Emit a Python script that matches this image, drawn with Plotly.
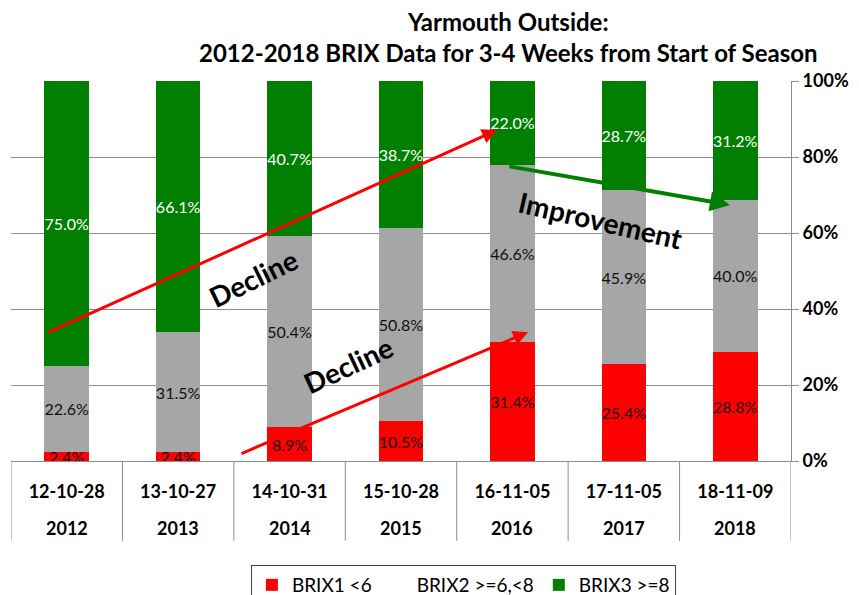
import plotly.graph_objects as go

# ---- data ----
years = ["2012", "2013", "2014", "2015", "2016", "2017", "2018"]
dates = ["12-10-28", "13-10-27", "14-10-31", "15-10-28", "16-11-05", "17-11-05", "18-11-09"]
brix1 = [2.4, 2.4, 8.9, 10.5, 31.4, 25.4, 28.8]
brix2 = [22.6, 31.5, 50.4, 50.8, 46.6, 45.9, 40.0]
brix3 = [75.0, 66.1, 40.7, 38.7, 22.0, 28.7, 31.2]
names = ["BRIX1 <6", "BRIX2 >=6,<8", "BRIX3 >=8"]
yticks = [0, 20, 40, 60, 80, 100]

FONT = "Lato"
RED, GRAY, GREEN = "#FF0000", "#A6A6A6", "#007F00"
GRID = "#8C8C8C"

fig = go.Figure()
fig.add_trace(go.Bar(
    x=years, y=brix1, name=names[0], marker=dict(color=RED, line=dict(width=0)),
    texttemplate="%{y:.1f}%", textposition="inside", insidetextanchor="middle",
    textangle=0, textfont=dict(family=FONT, size=16, color="#111111"),
))
fig.add_trace(go.Bar(
    x=years, y=brix2, name=names[1], showlegend=False,
    marker=dict(color=GRAY, line=dict(width=0)),
    texttemplate="%{y:.1f}%", textposition="inside", insidetextanchor="middle",
    textangle=0, textfont=dict(family=FONT, size=16, color="#111111"),
))
# legend-only entry for BRIX2 (its key has no visible swatch in the original)
fig.add_trace(go.Bar(
    x=[years[0]], y=[None], name=names[1],
    marker=dict(color="rgba(0,0,0,0)", line=dict(width=0)), hoverinfo="skip",
))
fig.add_trace(go.Bar(
    x=years, y=brix3, name=names[2], marker=dict(color=GREEN, line=dict(width=0)),
    texttemplate="%{y:.1f}%", textposition="inside", insidetextanchor="middle",
    textangle=0, textfont=dict(family=FONT, size=16, color="white"),
))

W, H, L, R, T, B = 859, 595, 11, 68, 81, 134
pw, ph = W - L - R, H - T - B
n = len(years)

shapes = []
for i in range(n + 1):
    shapes.append(dict(type="line", xref="x", yref="paper", x0=i - 0.5, x1=i - 0.5,
                       y0=0, y1=-0.21, line=dict(color=GRID, width=1)))

annotations = []
# title
annotations.append(dict(x=(509 - L) / pw, y=(H - B - 5) / ph, xref="paper", yref="paper",
                        showarrow=False,
                        text="Yarmouth Outside:<br>2012-2018 BRIX Data for 3-4 Weeks from Start of Season",
                        xanchor="center", yanchor="top", align="center",
                        font=dict(family=FONT, size=24, color="black", weight="bold")))
# year labels (second level of category axis)
for i, yr in enumerate(years):
    annotations.append(dict(x=i, y=-0.175, xref="x", yref="paper", text=yr,
                            showarrow=False, yanchor="middle",
                            font=dict(family=FONT, size=18, color="black", weight="bold")))

def arrow(x_head, y_head, x_tail, y_tail, color, width):
    return dict(x=x_head, y=y_head, ax=x_tail, ay=y_tail, xref="x", yref="y",
                axref="x", ayref="y", showarrow=True, arrowhead=2, arrowsize=1,
                arrowwidth=width, arrowcolor=color, standoff=0, startstandoff=0, text="")

annotations.append(arrow(3.861, 87.1, -0.177, 33.7, RED, 3))
annotations.append(arrow(4.140, 33.9, 1.555, 1.8, RED, 3))
annotations.append(arrow(5.952, 67.4, 3.960, 77.6, GREEN, 4))

bold_big = dict(family=FONT, size=28, color="black", weight="bold")
annotations.append(dict(x=1.672, y=48.2, xref="x", yref="y", text="Decline",
                        showarrow=False, textangle=-26, font=bold_big))
annotations.append(dict(x=2.524, y=25.3, xref="x", yref="y", text="Decline",
                        showarrow=False, textangle=-25, font=bold_big))
annotations.append(dict(x=4.786, y=63.4, xref="x", yref="y", text="Improvement",
                        showarrow=False, textangle=13, font=bold_big))

fig.update_layout(
    width=W, height=H,
    margin=dict(l=L, r=R, t=T, b=B, autoexpand=False),
    paper_bgcolor="white", plot_bgcolor="white",
    barmode="stack", bargap=0.6,
    uniformtext=dict(minsize=16, mode="show"),
    xaxis=dict(type="category", tickvals=years, ticktext=dates, range=[-0.5, n - 0.5],
               showgrid=False, showline=True, linecolor=GRID, linewidth=1, ticks="",
               ticklabelstandoff=14, automargin=False,
               tickfont=dict(family=FONT, size=18, color="black", weight="bold")),
    yaxis=dict(side="right", range=[0, 100], tickvals=yticks,
               ticktext=[f"{v}%" for v in yticks], automargin=False,
               showgrid=True, gridcolor=GRID, gridwidth=1, zeroline=False,
               showline=True, linecolor=GRID, linewidth=1,
               ticks="outside", ticklen=7, tickcolor=GRID,
               tickfont=dict(family=FONT, size=18, color="black", weight="bold")),
    legend=dict(orientation="h", x=0.58, xanchor="center", y=-(565 - (H - B)) / ph,
                yanchor="top",
                bordercolor="#404040", borderwidth=1, itemwidth=30,
                font=dict(family=FONT, size=19, color="black"), traceorder="normal"),
    shapes=shapes, annotations=annotations,
)

fig.write_html("out.html", config={"displayModeBar": False},
               post_script="document.body.style.margin='0';document.body.style.overflow='hidden';")
